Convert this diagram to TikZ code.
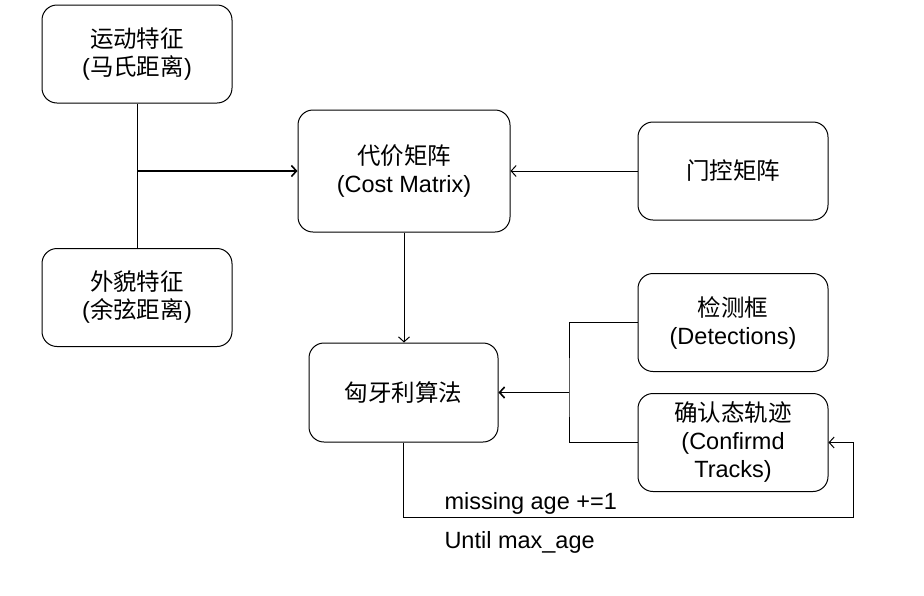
\documentclass[tikz,border=0pt]{standalone}
\usepackage{fontspec}
\setmainfont{Liberation Sans}
\newfontfamily\cjk{Noto Sans CJK SC}
\usetikzlibrary{arrows.meta,positioning}

\begin{document}
\begin{tikzpicture}[x=1pt,y=-1pt,>={Straight Barb[length=5pt,width=11pt]},line width=1pt,
  main node/.style={draw,rounded corners=15pt,minimum width=190pt,minimum height=98pt,inner sep=0pt,align=center,font=\fontsize{23.5}{28}\selectfont},
  note/.style={anchor=west,inner sep=0pt,font=\fontsize{23.5}{28}\selectfont},
  merge/.style={line width=1.6pt}]
                \useasboundingbox (0,0) rectangle (924,595);
                \node[main node] (motion) at (137,54) {{\cjk 运动特征}\\({\cjk 马氏距离})};
                \node[main node] (appear) at (137,297.5) {{\cjk 外貌特征}\\({\cjk 余弦距离})};
                \node[main node,minimum width=212pt,minimum height=122pt] (cost) at (404,171) {{\cjk 代价矩阵}\\(Cost Matrix)};
                \node[main node] (gate) at (733,171) {{\cjk 门控矩阵}};
                \node[main node,minimum width=189pt,minimum height=99pt] (hung) at (403.5,392.5) {{\cjk 匈牙利算法}};
                \node[main node] (det) at (733,322.5) {{\cjk 检测框}\\(Detections)};
                \node[main node] (track) at (733,442.5) {{\cjk 确认态轨迹}\\(Confirmd\\Tracks)};
                \node[note] (miss) at (444,503) {missing age +=1};
                \node[note] (until) at (444,542) {Until max\_age};

                \coordinate (join) at (137,171);
                \coordinate (split) at (569,392.5);
                \coordinate (loop) at (853,517);

                \draw (motion) -- (appear);
                \draw[->,merge] (join) -- (cost);
                \draw[->] (gate) -- (cost);
                \draw[->] (cost.south) -- (cost.south |- hung.north);
                \draw (det.west) -| (split) |- (track.west);
                \draw[->,merge] (split) -- (hung.east);
                \draw[->] (hung.south) |- (loop) |- (track.east);
            \end{tikzpicture}
\end{document}
